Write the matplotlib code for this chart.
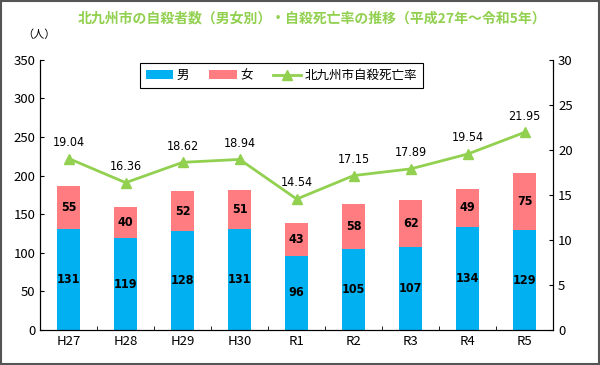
import matplotlib.pyplot as plt
import numpy as np

plt.rcParams['font.family'] = ['Noto Sans CJK JP', 'DejaVu Sans']

nendo = ['H27', 'H28', 'H29', 'H30', 'R1', 'R2', 'R3', 'R4', 'R5']
otoko = [131, 119, 128, 131, 96, 105, 107, 134, 129]
onna = [55, 40, 52, 51, 43, 58, 62, 49, 75]
ritsu = [19.04, 16.36, 18.62, 18.94, 14.54, 17.15, 17.89, 19.54, 21.95]

azul = '#00B0F0'
rosa = '#FF7C80'
verde = '#92D050'

fig = plt.figure(figsize=(6, 3.65), dpi=100)
fig.patches.append(plt.Rectangle((0.002, 0.003), 0.996, 0.994, transform=fig.transFigure,
                                 fill=False, edgecolor='#555555', linewidth=1.5))
ax = fig.add_axes([0.067, 0.096, 0.855, 0.74])
x = np.arange(len(nendo))

b1 = ax.bar(x, otoko, width=0.4, color=azul, label='男')
b2 = ax.bar(x, onna, width=0.4, bottom=otoko, color=rosa, label='女')

for i in range(len(nendo)):
    ax.text(x[i], otoko[i] / 2, str(otoko[i]), ha='center', va='center', fontsize=9,
            fontweight='bold', family='DejaVu Sans', fontstretch='condensed')
    ax.text(x[i], otoko[i] + onna[i] / 2, str(onna[i]), ha='center', va='center', fontsize=9,
            fontweight='bold', family='DejaVu Sans', fontstretch='condensed')

ax.set_ylim(0, 350)
ax.set_yticks(range(0, 351, 50))
ax.set_xlim(-0.5, len(nendo) - 0.5)
ax.set_xticks(x)
ax.set_xticklabels(nendo, fontsize=9.5)
ax.tick_params(axis='x', length=0)
ax.set_xticks(x[:-1] + 0.5, minor=True)
ax.tick_params(axis='x', which='minor', length=3, direction='in')
ax.tick_params(axis='y', labelsize=9.5, direction='in', length=3)
ax.spines['top'].set_visible(False)

ax2 = ax.twinx()
l1, = ax2.plot(x, ritsu, color=verde, marker='^', markersize=7, linewidth=2, label='北九州市自殺死亡率')
for i in range(len(nendo)):
    ax2.annotate('%.2f' % ritsu[i], (x[i], ritsu[i]), xytext=(0, 7), textcoords='offset points',
                 ha='center', va='bottom', fontsize=9, family='DejaVu Sans', fontstretch='condensed')
ax2.set_ylim(0, 30)
ax2.set_yticks(range(0, 31, 5))
ax2.tick_params(axis='y', labelsize=9.5, direction='in', length=3)
ax2.spines['top'].set_visible(False)

leg = ax.legend([b1, b2, l1], ['男', '女', '北九州市自殺死亡率'], loc='upper center',
                bbox_to_anchor=(0.47, 1.01), ncol=3, fontsize=9, fancybox=False,
                edgecolor='black', framealpha=1, columnspacing=1.6, handlelength=2.2,
                handletextpad=0.3, borderpad=0.45)
leg.get_frame().set_linewidth(0.8)

fig.text(0.52, 0.95, '北九州市の自殺者数（男女別）・自殺死亡率の推移（平成27年～令和5年）',
         ha='center', va='center', fontsize=10, color=verde, fontweight='bold')
fig.text(0.065, 0.905, '（人）', ha='center', va='center', fontsize=8)

fig.savefig('out.png', dpi=100)
